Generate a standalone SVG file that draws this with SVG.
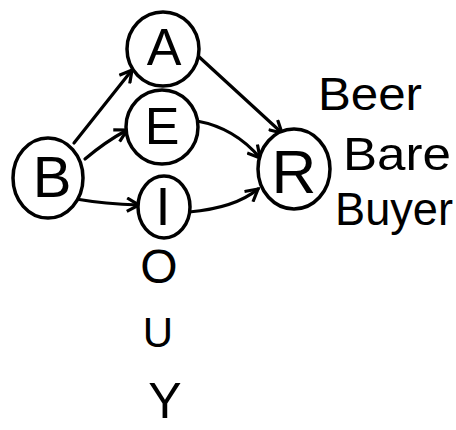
<svg xmlns="http://www.w3.org/2000/svg" width="456" height="430" viewBox="0 0 456 430">
  <style>
    .node { fill: #fff; stroke: #000; stroke-width: 3.5; }
    .lbl { font-family: "Liberation Sans", "DejaVu Sans", sans-serif; fill: #000; text-anchor: middle; }
    .edge { fill: none; stroke: #000; stroke-width: 3.2; stroke-linecap: round; marker-end: url(#arrow); }
    .word { font-family: "Liberation Sans", "DejaVu Sans", sans-serif; font-size: 46px; fill: #000; }
  </style>
  <defs>
    <marker id="arrow" viewBox="0 0 12 12" refX="10" refY="6" markerWidth="5" markerHeight="5" orient="auto" markerUnits="strokeWidth">
      <path d="M1,1 L10,6 L1,11" fill="none" stroke="#000" stroke-width="2.4" stroke-linejoin="miter"/>
    </marker>
  </defs>
  <rect width="456" height="430" fill="#fff"/>

  <g id="connectors">
    <path class="edge" d="M74,143 L132,70"/>
    <path class="edge" d="M85,159 Q105,142 127,130"/>
    <path class="edge" d="M76,199 Q105,204 139,205"/>
    <path class="edge" d="M197,55 L282,133"/>
    <path class="edge" d="M197,121 Q235,128 260,158"/>
    <path class="edge" d="M189,212 Q235,208 258,189"/>
  </g>

  <g id="node-A">
    <ellipse class="node" cx="163" cy="49" rx="36" ry="37"/>
    <text class="lbl" x="164" y="65" font-size="52">A</text>
  </g>
  <g id="node-E">
    <ellipse class="node" cx="162" cy="127" rx="36" ry="37"/>
    <text class="lbl" x="162" y="144" font-size="52">E</text>
  </g>
  <g id="node-B">
    <ellipse class="node" cx="48" cy="178" rx="35" ry="40"/>
    <text class="lbl" x="52" y="197" font-size="58">B</text>
  </g>
  <g id="node-I">
    <ellipse class="node" cx="164" cy="207" rx="26" ry="31"/>
    <text class="lbl" x="163" y="225" font-size="54">I</text>
  </g>
  <g id="node-R">
    <ellipse class="node" cx="294" cy="169" rx="36" ry="40"/>
    <text class="lbl" x="294" y="193" font-size="62">R</text>
  </g>

  <g id="words">
    <text class="word" x="318" y="110" textLength="104" lengthAdjust="spacingAndGlyphs">Beer</text>
    <text class="word" x="343" y="170" textLength="108" lengthAdjust="spacingAndGlyphs">Bare</text>
    <text class="word" x="335" y="225" textLength="118" lengthAdjust="spacingAndGlyphs">Buyer</text>
  </g>

  <g id="vowels">
    <text class="lbl" x="159" y="283" font-size="48">O</text>
    <text class="lbl" x="158" y="347" font-size="42">U</text>
    <text class="lbl" x="165" y="418" font-size="50">Y</text>
  </g>
</svg>
